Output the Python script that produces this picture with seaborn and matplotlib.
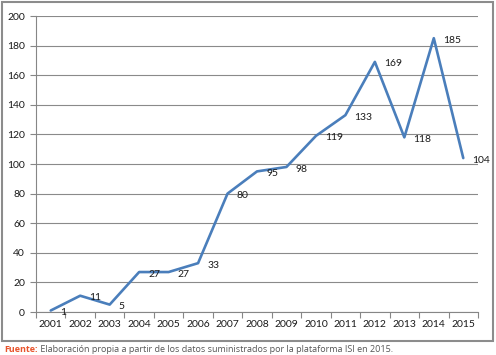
import matplotlib
matplotlib.use("Agg")
import matplotlib.pyplot as plt
import seaborn as sns
import pandas as pd
from matplotlib.patches import Rectangle
from matplotlib.ticker import FixedLocator

years = ["2001", "2002", "2003", "2004", "2005", "2006", "2007", "2008",
         "2009", "2010", "2011", "2012", "2013", "2014", "2015"]
counts = [1, 11, 5, 27, 27, 33, 80, 95, 98, 119, 133, 169, 118, 185, 104]
y_ticks = [0, 20, 40, 60, 80, 100, 120, 140, 160, 180, 200]
caption_bold = "Fuente:"
caption_text = "Elaboración propia a partir de los datos suministrados por la plataforma ISI en 2015."

sns.set_theme(style="white")
plt.rcParams["font.family"] = ["Lato", "DejaVu Sans"]

W, H = 496, 355
fig = plt.figure(figsize=(W / 100, H / 100), dpi=100)
ax = fig.add_axes([36 / W, 1 - 312 / H, (478 - 36) / W, (312 - 16) / H])

df = pd.DataFrame({"year": years, "count": counts})
df["pos"] = range(len(years))
sns.lineplot(data=df, x="pos", y="count", ax=ax, color="#4A7EBB", linewidth=1.9,
             sort=False)

for i, v in enumerate(counts):
    ax.annotate(str(v), (i, v), xytext=(6.5, -1.5), textcoords="offset points",
                ha="left", va="center", fontsize=7.5, color="#1a1a1a")

ax.set_xlim(-0.5, len(years) - 0.5)
ax.set_ylim(0, 200)
ax.set_yticks(y_ticks)
ax.set_xticks(range(len(years)))
ax.set_xticklabels(years)
ax.xaxis.set_minor_locator(FixedLocator([i - 0.5 for i in range(len(years) + 1)]))
ax.tick_params(axis="x", which="major", length=0, pad=6, labelsize=7.5, colors="#1a1a1a")
ax.tick_params(axis="x", which="minor", length=4, width=0.8, color="#868686", bottom=True)
ax.tick_params(axis="y", which="major", length=4, width=0.8, color="#868686", left=True,
               labelsize=7.5, labelcolor="#1a1a1a", pad=4)
ax.yaxis.grid(True, color="#8a8a8a", linewidth=0.8)
ax.set_axisbelow(True)
for s in ["top", "right"]:
    ax.spines[s].set_visible(False)
for s in ["left", "bottom"]:
    ax.spines[s].set_color("#868686")
    ax.spines[s].set_linewidth(0.8)
ax.set_xlabel("")
ax.set_ylabel("")

fig.patches.append(Rectangle((2 / W, 1 - 341 / H), (493 - 2) / W, (341 - 2) / H,
                             transform=fig.transFigure, fill=False,
                             edgecolor="#8c8c8c", linewidth=1.5))

t1 = fig.text(4 / W, 1 - 350 / H, caption_bold, fontsize=6.5, fontweight="bold",
              color="#E8532B", family=["Open Sans", "DejaVu Sans"], va="center")
fig.canvas.draw()
ax.annotate(" " + caption_text, xy=(1, 0.5), xycoords=t1, va="center", ha="left",
            fontsize=6.5, color="#555555", family=["Open Sans", "DejaVu Sans"],
            annotation_clip=False)

fig.savefig("out.png", dpi=100)
